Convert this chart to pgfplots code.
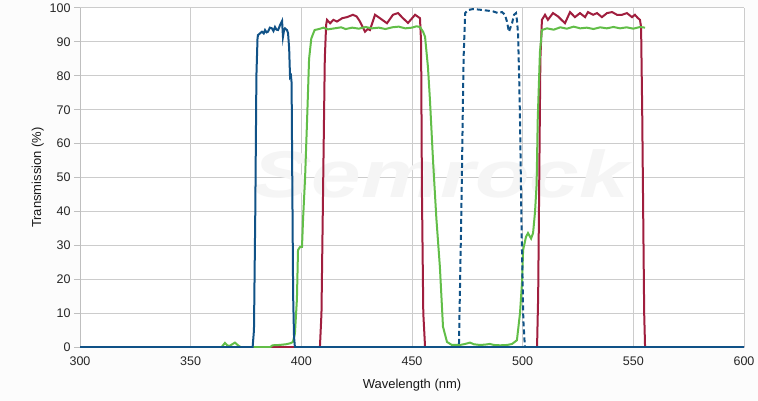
\documentclass[border=0pt]{standalone}
\usepackage{fontspec}
\setmainfont{Liberation Sans}
\usepackage{pgfplots}
\pgfplotsset{compat=1.18}
\definecolor{fblue}{RGB}{16,82,135}
\definecolor{fred}{RGB}{160,30,62}
\definecolor{fgreen}{RGB}{98,190,72}
\begin{document}
\begin{tikzpicture}
\shade[top color=black!1, middle color=black!7, bottom color=black!1] (0pt,0pt) rectangle (758pt,400pt);
\begin{axis}[
  at={(80pt,53pt)}, anchor=south west, scale only axis,
  width=664pt, height=339pt,
  xmin=300, xmax=600, ymin=0, ymax=100,
  xtick={300,350,...,600}, ytick={0,10,...,100},
  grid=major, grid style={black!20, line width=1pt},
  axis x line=bottom, axis y line=left,
  axis line style={black!25, line width=1pt, -},
  axis background/.style={fill=white},
  x tick style={draw=none},
  y tick style={black!25, line width=1pt},
  tick align=outside, major tick length=6pt,
  tick label style={font=\fontsize{12.5}{14}\selectfont, text=black!85},
  /pgf/number format/assume math mode=true,
  /pgf/number format/1000 sep={},
  xlabel={Wavelength (nm)}, ylabel={Transmission (\%)},
  label style={font=\fontsize{13}{15}\selectfont, text=black!90},
  xlabel style={yshift=-7pt},
  ylabel style={yshift=-1pt},
]
\node[text=black!4, font=\fontsize{66}{66}\selectfont\bfseries\itshape, xscale=1.35] at (axis cs:463,51) {Semrock};
\addplot[fred, line width=2pt] coordinates {
(300,0) (408.4,0) (409.1,10) (409.8,45) (410.6,85) (411.2,95) (411.6,96.5) (413,95.5) (414.5,96.5) (416.1,96) (418.5,97) (420.6,97.3) (423.3,98) (425,97.5) (426.5,96) (428.8,93) (430,93.8) (431,93.5) (433.3,98) (435.5,97) (438.7,95.5) (441.4,98) (443.7,98.5) (445.9,97) (448.2,95.6) (451.4,98) (453.6,97) (454.1,90) (454.5,45) (455.1,10) (455.9,0) (506.5,0) (507,15) (507.4,43) (508,85) (508.7,96.5) (510.1,98) (511.4,96.5) (513.7,98.5) (516,97.5) (519.1,95.5) (521.4,98.8) (523.6,97.3) (525.9,98.5) (528.2,97.3) (529.5,98.8) (531.8,98) (533.6,98.5) (535.8,97.3) (538.1,98.5) (540.4,98.8) (542.6,98) (544.9,98) (547.1,98.5) (549.4,97.3) (550.7,98) (552.1,97) (553,96.5) (553.5,94.4) (554,70) (554.4,43) (554.9,10) (555.3,0) (600,0)
};
\addplot[fgreen, line width=2pt] coordinates {
(364,0) (365.5,1.2) (366.5,0.5) (367.5,0.3) (369,0.9) (370,1.3) (371.4,0.5) (372.5,0) (386,0) (387,0.5) (390,0.6) (393,0.8) (395,1.1) (396.2,1.5) (397.1,4) (398,14) (398.5,28.6) (399.4,29.5) (400.3,29.5) (400.8,38) (401.7,50) (402.6,67) (403.5,85) (404.5,91) (406,93.5) (408,93.8) (410,94.2) (412,93.7) (415,94) (418,94.3) (420,93.8) (423,94.2) (426,93.9) (429,94.4) (432,94) (435,94.2) (438,93.8) (441,94.3) (444,94.5) (447,94) (450,94.2) (452,94.6) (453.6,94.4) (455,93) (455.9,91.5) (457.2,82.6) (458.1,73) (459.5,55) (461,38) (462.6,23.6) (464,6) (465.8,1.5) (468,0.6) (471.7,0.6) (474,0.9) (476.2,1.3) (478,0.8) (480.7,0.6) (483,0.7) (485.2,0.9) (487,0.6) (489.8,0.5) (493,0.6) (495.2,0.9) (497.4,2) (498.8,10) (499.7,19) (500.2,28.6) (501.5,32.5) (502.4,33.6) (503.8,32) (504.7,33.6) (505.6,40) (506.3,48) (506.8,67) (507.8,87) (508.7,93.5) (511,94) (514,93.6) (517,94.3) (520,93.9) (523,94.5) (526,94) (529,94.2) (532,93.8) (535,94.3) (538,94) (541,94.4) (544,94) (547,94.3) (550,93.9) (553,94.4) (555.3,94.2)
};
\addplot[fblue, line width=2pt] coordinates {
(300,0) (378,0) (378.6,5) (379.2,40) (379.7,80) (380.2,91) (380.4,92) (381.3,92.5) (382.2,93) (383,92.5) (383.6,93.5) (384.3,92.8) (384.9,93) (385.8,94.2) (386.7,94) (387.4,93.2) (388.1,94.4) (388.8,93.6) (389.5,93.5) (390.4,95) (391.3,96.2) (391.7,91.5) (392.2,93.5) (392.6,94) (393.5,93.5) (394,92.6) (394.5,88) (394.9,79.6) (395.3,80) (395.6,78) (395.9,50) (396.3,15) (396.7,3) (397.1,0) (600,0)
};
\addplot[fblue, line width=2pt, dash pattern=on 5pt off 3pt] coordinates {
(469,0) (471.2,0) (472.3,40) (473.3,85) (474,98.5) (475.3,99.4) (477.6,99.7) (482.1,99.4) (486.6,99) (488.9,98.5) (490.7,98.8) (492,98) (492.9,96) (493.8,93) (495.2,95.5) (496.1,98) (497,98.5) (497.4,96.5) (497.9,92.6) (498.4,80) (498.8,67) (499.5,35) (500.3,8) (501,0) (503,0)
};
\end{axis}
\end{tikzpicture}
\end{document}
